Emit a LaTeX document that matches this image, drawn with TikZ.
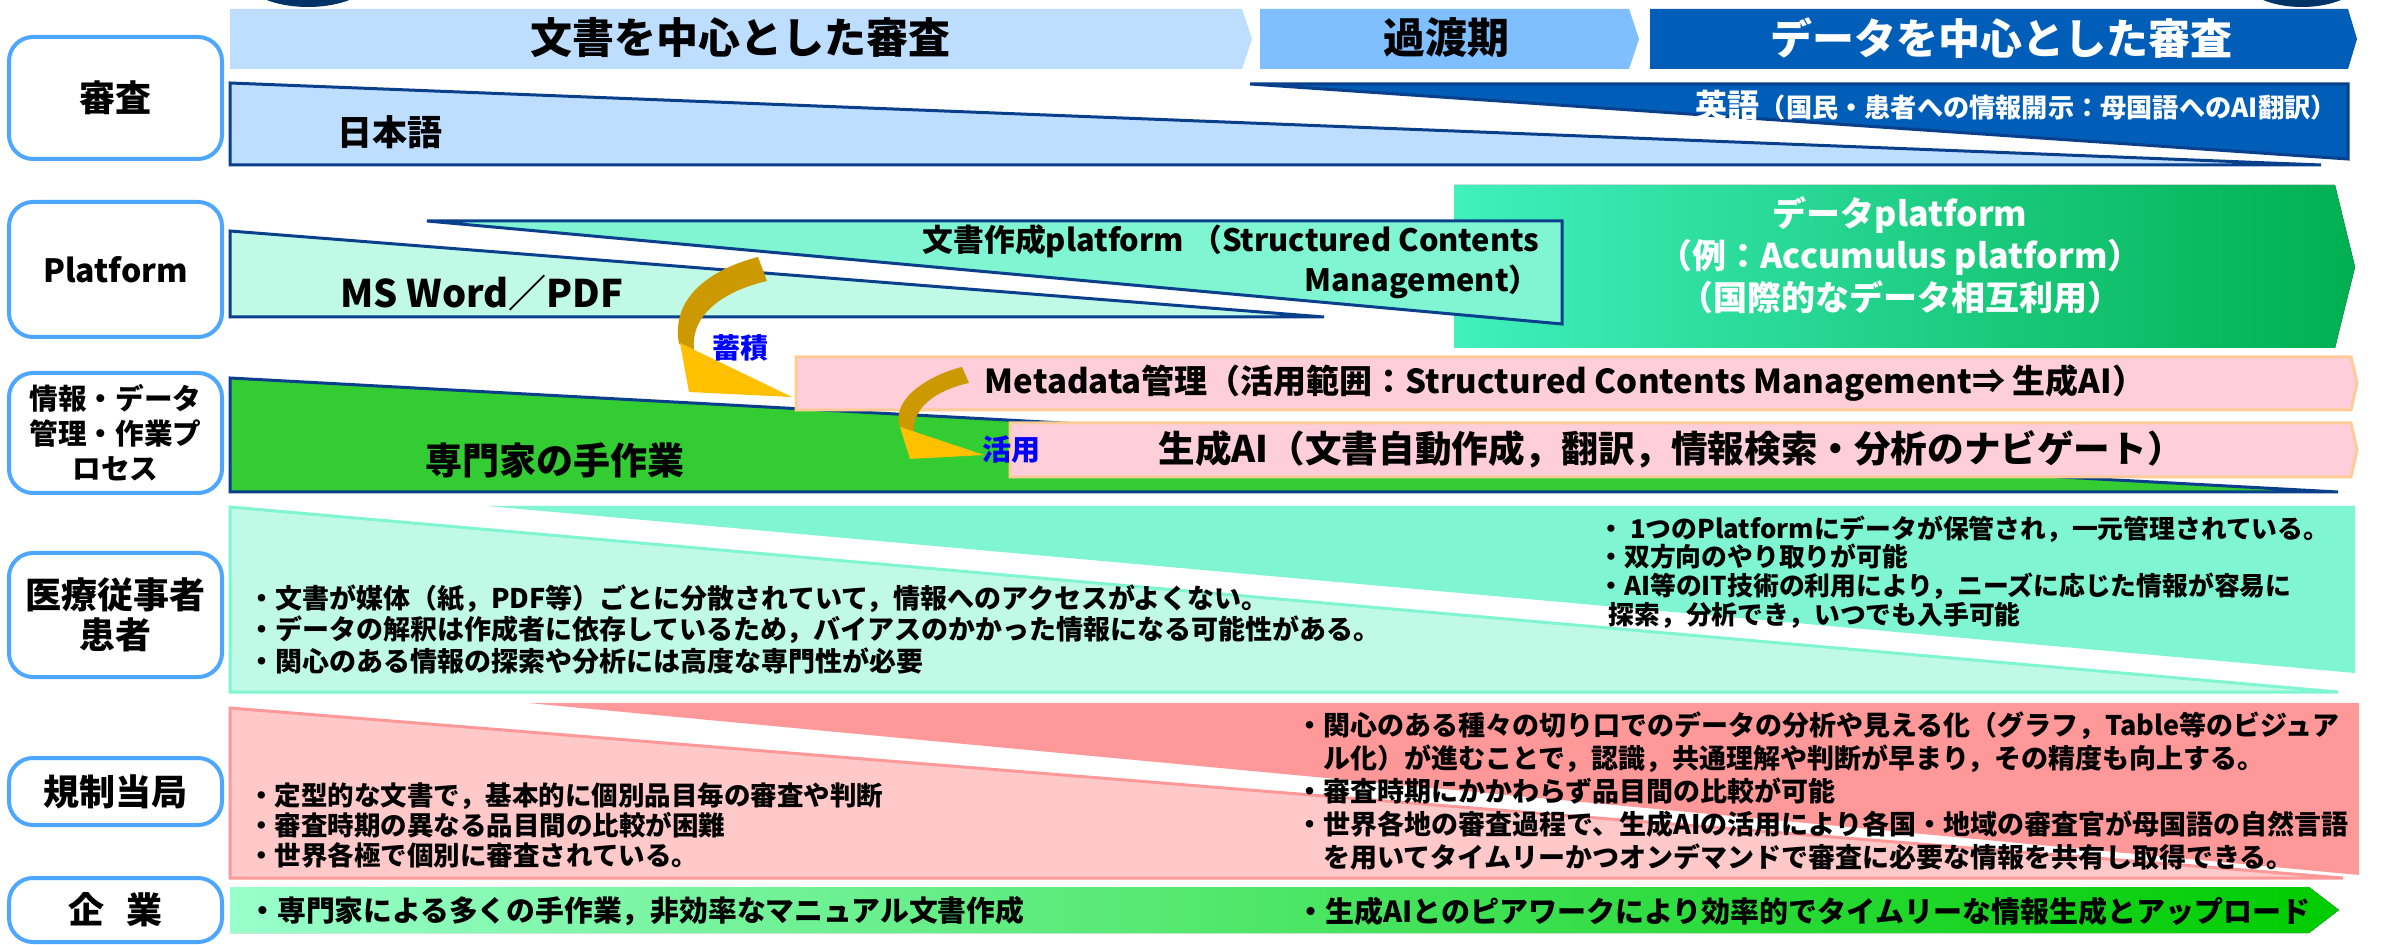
\documentclass[tikz,border=0pt]{standalone}
\usepackage{fontspec}
\setmainfont{Noto Sans CJK JP}
\newcommand{\myfs}[2]{\fontsize{#1}{#2}\selectfont}
\definecolor{hdrA}{HTML}{BDDEFF}
\definecolor{hdrB}{HTML}{80BFFF}
\definecolor{hdrC}{HTML}{005EB8}
\definecolor{navy}{HTML}{0A3F8C}
\definecolor{lblblue}{HTML}{4DA6FF}
\definecolor{mintA}{HTML}{C0FAE6}
\definecolor{mintB}{HTML}{80F5D2}
\definecolor{dpL}{HTML}{40F0BE}
\definecolor{dpR}{HTML}{00B050}
\definecolor{expert}{HTML}{33CC33}
\definecolor{pinkF}{HTML}{FFCEDB}
\definecolor{pinkB}{HTML}{FFCC99}
\definecolor{goldD}{HTML}{CC9900}
\definecolor{goldL}{HTML}{FFC000}
\definecolor{regA}{HTML}{FFC9C9}
\definecolor{regB}{HTML}{FF9999}
\definecolor{entA}{HTML}{99FFCC}
\definecolor{entM}{HTML}{92D050}
\definecolor{entR}{HTML}{00CC00}
\definecolor{ellip}{HTML}{003366}
\definecolor{tblue}{HTML}{0000FF}
\begin{document}
\begin{tikzpicture}[x=0.5pt,y=-0.5pt,
  every node/.style={inner sep=0pt, font=\bfseries},
  lbl/.style={draw=lblblue, line width=2pt, rounded corners=12pt, fill=white,
    minimum width=106.5pt, align=center, font=\bfseries\myfs{18}{20}},
  shp/.style={draw=navy, line width=1.5pt, line join=miter},
  pinkbox/.style={draw=pinkB, line width=1.5pt, fill=pinkF},
  hdr/.style={font=\bfseries\myfs{21}{24}},
  body/.style={font=\bfseries\myfs{13.25}{15.75}, align=left, anchor=west},
  gband/.style={fill=goldD},
  ghead/.style={fill=goldL}]
\useasboundingbox (0,0) rectangle (2407,945);
\fill[white] (0,0) rectangle (2407,945);
% top ellipses
\fill[ellip] (308,-28) ellipse [x radius=69, y radius=35];
\fill[ellip] (2302,-28) ellipse [x radius=65, y radius=35];
% headers
\fill[hdrA] (230,9) -- (1242,9) -- (1252,39) -- (1242,69) -- (230,69) -- cycle;
\fill[hdrB] (1260,9) -- (1629,9) -- (1639,39) -- (1629,69) -- (1260,69) -- cycle;
\fill[hdrC] (1650,9) -- (2348,9) -- (2357,39) -- (2348,69) -- (1650,69) -- cycle;
\node[hdr] (h1) at (740,38) {文書を中心とした審査};
\node[hdr] (h2) at (1446,38) {過渡期};
\node[hdr,text=white] (h3) at (2001,38) {データを中心とした審査};
% row labels
\node[lbl, minimum height=61pt] (l1) at (115.5,98) {審査};
\node[lbl, minimum height=67.5pt, font=\bfseries\myfs{16}{18}] (l2) at (115.5,269.5) {Platform};
\node[lbl, minimum height=60pt, font=\bfseries\myfs{14.3}{17.5}] (l3) at (115.5,433) {情報・データ\\管理・作業プ\\ロセス};
\node[lbl, minimum height=62pt] (l4) at (115.5,615) {医療従事者\\患者};
\node[lbl, minimum height=33.5pt] (l5) at (115.5,791.5) {規制当局};
\node[lbl, minimum height=32pt] (l6) at (115.5,910) {企\hspace{0.6em}業};
% review row
\filldraw[shp, fill=hdrA] (230,83) -- (2321,165) -- (230,165) -- cycle;
\filldraw[shp, fill=hdrC] (1250,84) -- (2348,84) -- (2348,159) -- cycle;
\node[font=\bfseries\myfs{17.5}{20}] (jp) at (390,132) {日本語};
\node[anchor=east, text=white] (en) at (2337,105) {\myfs{16}{18}英語\myfs{13.1}{15}（国民・患者への情報開示：母国語へのAI翻訳）};
% platform row
\fill[left color=dpL, right color=dpR] (1454,185) -- (2335,185) -- (2355,267) -- (2335,348) -- (1454,348) -- cycle;
\filldraw[shp, fill=mintA] (230,231) -- (1324,317) -- (230,317) -- cycle;
\filldraw[shp, fill=mintB] (427,221) -- (1562,221) -- (1562,324) -- cycle;
\node[font=\bfseries\myfs{19}{22}] (msw) at (482,293) {MS Word／PDF};
\node[anchor=east, align=right, font=\bfseries\myfs{15.4}{20}] (scm) at (1540,262) {文書作成platform （Structured Contents\\Management）};
\node[align=center, text=white, font=\bfseries\myfs{17}{21}] (dp) at (1900,255) {データplatform\\（例：Accumulus platform）\\（国際的なデータ相互利用）};
% information / process row
\filldraw[shp, fill=expert] (230,378) -- (2338,492) -- (230,492) -- cycle;
\filldraw[pinkbox] (796,357) -- (2351,357) -- (2357,383) -- (2351,410) -- (796,410) -- cycle;
\filldraw[pinkbox] (1010,423) -- (2351,423) -- (2357,450) -- (2351,477) -- (1010,477) -- cycle;
\node[font=\bfseries\myfs{18.5}{22}] (exp) at (555,460) {専門家の手作業};
\node[font=\bfseries\myfs{16.5}{20}] (meta) at (1565,383) {Metadata管理（活用範囲：Structured Contents Management⇒ 生成AI）};
\node[font=\bfseries\myfs{18.3}{20}] (gai) at (1671,449) {生成AI（文書自動作成，翻訳，情報検索・分析のナビゲート）};
% curved arrows
\fill[gband] (758,257) .. controls (715,268) and (670,295) .. (679,344) -- (694,350) .. controls (690,312) and (728,290) .. (767,281) -- cycle;
\fill[ghead] (680,343) -- (689,392) -- (792,397) -- cycle;
\fill[gband] (962,367) .. controls (932,374) and (890,398) .. (900,427) -- (914,432) .. controls (912,408) and (936,390) .. (969,383) -- cycle;
\fill[ghead] (900,427) -- (910,459) -- (984,455) -- cycle;
\node[text=tblue, font=\bfseries\myfs{14}{16}] (acc) at (740,348) {蓄積};
\node[text=tblue, font=\bfseries\myfs{14.5}{16}] (use) at (1011,450) {活用};
% medical row
\filldraw[draw=mintB, line width=1.5pt, fill=mintA] (230,507) -- (2338,692) -- (230,692) -- cycle;
\fill[mintB] (487,506) -- (2355,506) -- (2355,673) -- cycle;
\node[body, font=\bfseries\myfs{13.5}{15.75}] (medL) at (248,629.5) {・文書が媒体（紙，PDF等）ごとに分散されていて，情報へのアクセスがよくない。\\・データの解釈は作成者に依存しているため，バイアスのかかった情報になる可能性がある。\\・関心のある情報の探索や分析には高度な専門性が必要};
\node[body, font=\bfseries\myfs{12.9}{14.35}] (medR) at (1598,572) {・ 1つのPlatformにデータが保管され，一元管理されている。\\・双方向のやり取りが可能\\・AI等のIT技術の利用により，ニーズに応じた情報が容易に\\\hspace*{0.4em}探索，分析でき，いつでも入手可能};
% regulator row
\filldraw[draw=regB, line width=1.5pt, fill=regA] (230,708) -- (2343,878) -- (230,878) -- cycle;
\fill[regB] (528,703) -- (2359,703) -- (2359,875) -- cycle;
\node[body, font=\bfseries\myfs{13.25}{15}] (regL) at (248,825) {・定型的な文書で，基本的に個別品目毎の審査や判断\\・審査時期の異なる品目間の比較が困難\\・世界各極で個別に審査されている。};
\node[body, font=\bfseries\myfs{13.5}{16.5}] (regR) at (1296,791) {・関心のある種々の切り口でのデータの分析や見える化（グラフ，Table等のビジュア\\\hspace*{1em}ル化）が進むことで，認識，共通理解や判断が早まり，その精度も向上する。\\・審査時期にかかわらず品目間の比較が可能\\・世界各地の審査過程で、生成AIの活用により各国・地域の審査官が母国語の自然言語\\\hspace*{1em}を用いてタイムリーかつオンデマンドで審査に必要な情報を共有し取得できる。};
% enterprise row
\fill[left color=entA, middle color=entM, right color=entR] (230,887) -- (2309,887) -- (2339,910) -- (2309,933) -- (230,933) -- cycle;
\node[body, font=\bfseries\myfs{14.4}{16}] (entL) at (248,911) {・専門家による多くの手作業，非効率なマニュアル文書作成};
\node[body, font=\bfseries\myfs{14.5}{16}] (entR) at (1296,911) {・生成AIとのピアワークにより効率的でタイムリーな情報生成とアップロード};
\end{tikzpicture}
\end{document}
